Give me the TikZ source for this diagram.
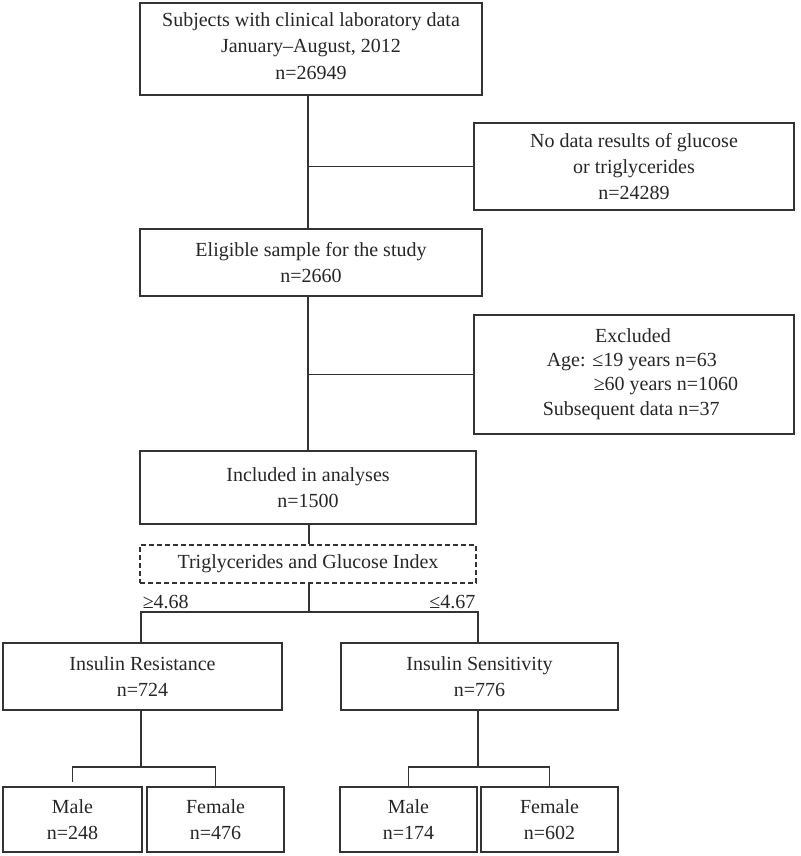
\documentclass[tikz,border=0pt]{standalone}
\usepackage{fontspec}
\setmainfont{Liberation Serif}
\begin{document}
\begin{tikzpicture}[x=1pt,y=-1pt,
  line width=1.5pt,
  every node/.style={font=\fontsize{20}{26}\selectfont, text=black!85},
  box/.style={draw=black!80, line width=1.5pt, inner sep=0pt, align=center},
  conn/.style={draw=black!80, line width=1.5pt},
  dbox/.style={box, line width=1.3pt, dash pattern=on 5pt off 3pt}]
\useasboundingbox (0,0) rectangle (800,856);
% boxes
\node[box, minimum width=342pt, minimum height=92pt] (top) at (311,49) {};
\node[anchor=base] (t1) at (311,27) {Subjects with clinical laboratory data};
\node[anchor=base] (t2) at (311,53) {January--August, 2012};
\node[anchor=base] (t3) at (311,80) {n=26949};
\node[box, minimum width=320pt, minimum height=87pt] (nodata) at (634,166.5) {No data results of glucose\\or triglycerides\\n=24289};
\node[box, minimum width=342pt, minimum height=67pt] (elig) at (311,262.5) {Eligible sample for the study\\n=2660};
\node[box, minimum width=320pt, minimum height=119pt] (excl) at (634,374.5) {};
\node[anchor=base] (ex1) at (633,342) {Excluded};
\node[anchor=base west, inner sep=0pt] (ex2) at (546,366) {Age: ≤19 years n=63};
\node[anchor=base west, inner sep=0pt] (ex3) at (593,390) {≥60 years n=1060};
\node[anchor=base west, inner sep=0pt] (ex4) at (542,415) {Subsequent data n=37};
\node[box, minimum width=336pt, minimum height=73pt] (incl) at (308,487.5) {Included in analyses\\n=1500};
\node[dbox, minimum width=336pt, minimum height=38pt] (tgi) at (308,564) {Triglycerides and Glucose Index};
\node[box, minimum width=279pt, minimum height=67pt] (ir) at (142.5,676.5) {Insulin Resistance\\n=724};
\node[box, minimum width=277pt, minimum height=67pt] (is) at (479.5,676.5) {Insulin Sensitivity\\n=776};
\node[box, minimum width=139pt, minimum height=65pt] (m1) at (72.5,819.5) {Male\\n=248};
\node[box, minimum width=137pt, minimum height=65pt] (f1) at (215.5,819.5) {Female\\n=476};
\node[box, minimum width=137pt, minimum height=65pt] (m2) at (408.5,819.5) {Male\\n=174};
\node[box, minimum width=137pt, minimum height=65pt] (f2) at (549.5,819.5) {Female\\n=602};
% labels
\node[anchor=base west, inner sep=0pt] (ge) at (142,608) {≥4.68};
\node[anchor=base east, inner sep=0pt] (le) at (476,608) {≤4.67};
% connectors
\coordinate (spine) at (308,0);
\coordinate (split) at (309,612);
\coordinate (b1) at (141,767);
\coordinate (b2) at (478,767);
\draw[conn] (top.south -| spine) -- (elig.north -| spine);
\draw[conn] (spine |- nodata.west) -- (nodata.west);
\draw[conn] (elig.south -| spine) -- (incl.north -| spine);
\draw[conn] (spine |- excl.west) -- (excl.west);
\draw[conn] (incl.south -| split) -- (tgi.north -| split);
\draw[conn] (tgi.south -| split) -- (split);
\draw[conn] (ir.north -| b1) -- (b1 |- split) -- (b2 |- split) -- (is.north -| b2);
\draw[conn] (ir.south -| b1) -- (b1);
\draw[conn] ([yshift=4pt]m1.north) -- (m1.north |- b1) -- (f1.north |- b1) -- (f1.north);
\draw[conn] (is.south -| b2) -- (b2);
\draw[conn] (m2.north) -- (m2.north |- b2) -- (f2.north |- b2) -- (f2.north);
\end{tikzpicture}
\end{document}
